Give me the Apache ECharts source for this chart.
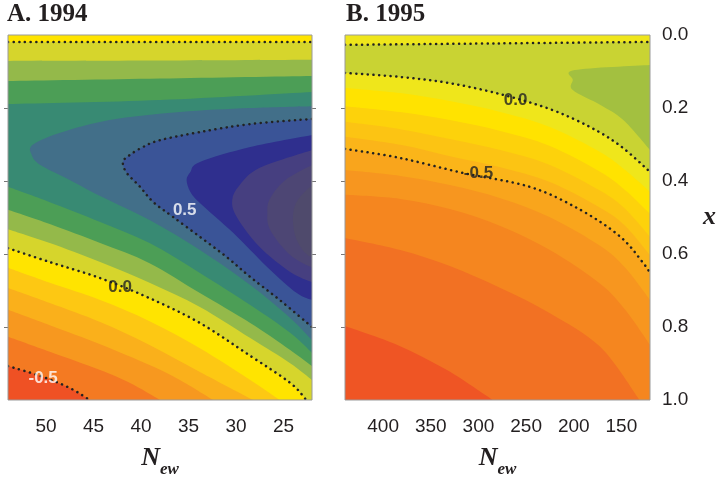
<!DOCTYPE html>
<html>
<head>
<meta charset="utf-8">
<script src="https://cdn.jsdelivr.net/npm/echarts@6/dist/echarts.min.js"></script>
<style>
html,body{margin:0;padding:0;background:#fff}
#main{width:719px;height:477px}
</style>
</head>
<body>
<div id="main"></div>
<script>
// tick values
const ticksA = [25, 30, 35, 40, 45, 50];
const ticksB = [150, 200, 250, 300, 350, 400];
const ticksX = [0, 0.2, 0.4, 0.6, 0.8, 1.0];
const innerX = [0.2, 0.4, 0.6, 0.8];

// A. 1994 -- contour lines, [N_ew, x]
const a_top00 = [[54,0.019],[22,0.019]];
const a_up01 = [[54,0.071],[38,0.070],[22,0.068]];
const a_up02 = [[54,0.126],[38,0.119],[22,0.112]];
const a_up03 = [[54,0.189],[38,0.178],[22,0.156]];
const a_lo00 = [[54,0.584],[49.6,0.622],[44.3,0.666],[39.1,0.721],[33.8,0.789],[28.5,0.879],[24.3,0.953],[22.6,1]];
const a_lo01 = [[54,0.532],[49.6,0.570],[44.3,0.622],[39.1,0.679],[33.8,0.745],[28.5,0.830],[24.3,0.899],[22,0.945]];
const a_lo02 = [[54,0.479],[49.6,0.518],[44.3,0.570],[39.1,0.625],[33.8,0.707],[28.5,0.789],[24.3,0.863],[22,0.907]];
const a_lo03 = [[54,0.416],[49.6,0.458],[44.3,0.512],[39.1,0.570],[33.8,0.652],[28.5,0.740],[24.3,0.816],[22,0.871]];
const a_c04 = [[22,0.195],[28.5,0.2],[35.9,0.211],[43.3,0.233],[48.5,0.268],[51.4,0.301],[51.5,0.329],[50.6,0.356],[47.5,0.397],[44.3,0.441],[39.1,0.507],[33.8,0.589],[28.5,0.685],[24.3,0.775],[22,0.836]];
const a_c05 = [[22,0.230],[28.5,0.244],[33.8,0.266],[38,0.288],[39.8,0.307],[41.2,0.329],[41.9,0.348],[41.5,0.378],[40.1,0.416],[38.7,0.458],[36.6,0.499],[33.8,0.553],[31,0.608],[28.5,0.663],[25.4,0.726],[22,0.8]];
const a_c06 = [[22,0.274],[28.5,0.307],[33.8,0.348],[34.8,0.375],[35.2,0.397],[34.8,0.430],[33.8,0.460],[30.3,0.542],[26.7,0.636],[23.6,0.707],[22,0.726]];
const a_c07 = [[22,0.315],[27.5,0.364],[29.6,0.411],[30.4,0.452],[29.9,0.499],[27.5,0.581],[24.3,0.649],[22,0.677]];
const a_c08 = [[22,0.356],[24.8,0.397],[26.4,0.447],[26.7,0.485],[26.4,0.534],[24.3,0.603],[22,0.638]];
const a_c09 = [[22,0.411],[23.5,0.452],[24,0.493],[23.8,0.548],[23,0.589],[22,0.611]];
const a_m01 = [[54,0.638],[49.6,0.679],[44.3,0.726],[39.1,0.784],[33.8,0.858],[28.5,0.945],[25.4,1]];
const a_m02 = [[54,0.693],[49.6,0.734],[44.3,0.786],[39.1,0.849],[33.8,0.923],[28.2,1]];
const a_m03 = [[54,0.753],[49.6,0.795],[44.3,0.847],[39.1,0.904],[35.9,0.945],[32.4,1]];
const a_m04 = [[54,0.827],[49.6,0.868],[44.3,0.918],[41.2,0.953],[38,1]];
const a_m05 = [[54,0.907],[50.6,0.934],[47.5,0.967],[45.4,1]];
const labelsA = [[35.4,0.479,'0.5'],[42.2,0.69,'0.0'],[50.3,0.94,'-0.5']];

// B. 1995
const b_top00 = [[440,0.027],[280,0.023],[120,0.019]];
const b_lo00 = [[440,0.104],[382,0.115],[330,0.132],[277,0.162],[225,0.203],[183,0.252],[151,0.304],[120,0.375]];
const b_p01 = [[120,0.082],[199,0.096],[201,0.123],[201,0.151],[172,0.192],[148,0.233],[120,0.315]];
const b_m01 = [[440,0.145],[382,0.159],[330,0.181],[277,0.211],[225,0.252],[172,0.321],[146,0.370],[120,0.430]];
const b_m02 = [[440,0.195],[382,0.211],[330,0.233],[277,0.263],[225,0.304],[172,0.375],[146,0.425],[120,0.490]];
const b_m03 = [[440,0.238],[382,0.258],[330,0.285],[277,0.315],[225,0.356],[172,0.427],[146,0.477],[120,0.553]];
const b_m04 = [[440,0.279],[382,0.301],[330,0.332],[277,0.362],[225,0.403],[172,0.474],[146,0.523],[120,0.603]];
const b_m05 = [[440,0.312],[382,0.337],[316,0.378],[246,0.416],[193,0.479],[151,0.553],[127,0.625],[120,0.652]];
const b_m06 = [[440,0.370],[382,0.386],[330,0.411],[277,0.447],[225,0.499],[172,0.578],[146,0.638],[120,0.726]];
const b_m07 = [[440,0.438],[382,0.449],[330,0.477],[277,0.523],[225,0.589],[172,0.682],[146,0.753],[120,0.849]];
const b_m08 = [[440,0.556],[382,0.589],[330,0.633],[277,0.693],[225,0.762],[172,0.855],[131,1]];
const b_m09 = [[440,0.797],[385,0.849],[333,0.918],[285,1]];
const labelsB = [[261,0.18,'0.0'],[300,0.38,'-0.5']];

const TOP_A = [[54,0],[22,0]], BOT_A = [[54,1],[22,1]];
const TOP_B = [[440,0],[120,0]], BOT_B = [[440,1],[120,1]];

// filled bands, lowest first (each one painted over the previous)
const bandsA = [[TOP_A,BOT_A],[TOP_A,a_m05],[TOP_A,a_m04],[TOP_A,a_m03],[TOP_A,a_m02],[TOP_A,a_m01],
  [a_top00,a_lo00],[a_up01,a_lo01],[a_up02,a_lo02],[a_up03,a_lo03],
  [a_c04,null],[a_c05,null],[a_c06,null],[a_c07,null],[a_c08,null],[a_c09,null]];
const coloursA = ['#EF5124','#F47A22','#F7981F','#FAB01B','#FDC813','#FFE400',
  '#D6D52C','#94B94A','#4C9E56','#388A73','#426F89','#3A5497','#2F2F8E','#463F80','#4D4674','#4F4A6C'];
const dottedA = [a_top00, a_lo00, a_c05, a_m05];

const bandsB = [[TOP_B,BOT_B],[TOP_B,b_m09],[TOP_B,b_m08],[TOP_B,b_m07],[TOP_B,b_m06],[TOP_B,b_m05],
  [TOP_B,b_m04],[TOP_B,b_m03],[TOP_B,b_m02],[TOP_B,b_m01],[b_top00,b_lo00],[b_p01,null]];
const coloursB = ['#EF5524','#F27123','#F5861F','#F7961F','#F9A51C','#FBB519',
  '#FCC413','#FDD20B','#FFE300','#EFE61B','#C9D333','#A3C040'];
const dottedB = [b_top00, b_lo00, b_m05];

// curve through pixel points (Catmull-Rom as cubic segments), no leading M
function curve(p) {
  let d = '';
  for (let i = 0; i < p.length - 1; i++) {
    const p0 = p[i - 1] || p[i], p1 = p[i], p2 = p[i + 1], p3 = p[i + 2] || p[i + 1];
    const c1x = p1[0] + (p2[0] - p0[0]) / 6, c1y = p1[1] + (p2[1] - p0[1]) / 6;
    const c2x = p2[0] - (p3[0] - p1[0]) / 6, c2y = p2[1] - (p3[1] - p1[1]) / 6;
    d += ' C' + c1x + ' ' + c1y + ' ' + c2x + ' ' + c2y + ' ' + p2[0] + ' ' + p2[1];
  }
  return d;
}

function bandPath(api, up, lo, nRight) {
  const u = up.map(p => api.coord(p));
  let d = 'M' + u[0][0] + ' ' + u[0][1] + curve(u);
  if (lo) {
    const e = lo[lo.length - 1];
    if (e[1] >= 1 && e[0] !== nRight) {
      const c = api.coord([nRight, 1]);
      d += ' L' + c[0] + ' ' + c[1];
    }
    const l = lo.slice().reverse().map(p => api.coord(p));
    d += ' L' + l[0][0] + ' ' + l[0][1] + curve(l);
  }
  return d + ' Z';
}

const ink = '#231f20';
const serif = 'Liberation Serif';
const sans = 'Liberation Sans';

function fillSeries(bands, colours, nRight, xi, yi, mid) {
  return {
    type: 'custom', xAxisIndex: xi, yAxisIndex: yi, clip: true, silent: true,
    data: bands.map(() => mid),
    renderItem: (params, api) => {
      const b = bands[params.dataIndex];
      return {
        type: 'path',
        shape: { pathData: bandPath(api, b[0], b[1], nRight) },
        style: { fill: colours[params.dataIndex], stroke: null }
      };
    }
  };
}

function dottedSeries(lines, xi, yi, mid) {
  return {
    type: 'custom', xAxisIndex: xi, yAxisIndex: yi, clip: true, silent: true, z: 3,
    data: lines.map(() => mid),
    renderItem: (params, api) => {
      const p = lines[params.dataIndex].map(q => api.coord(q));
      return {
        type: 'path',
        shape: { pathData: 'M' + p[0][0] + ' ' + p[0][1] + curve(p) },
        style: { fill: 'none', stroke: '#222', lineWidth: 2.5, lineDash: [0.1, 5.6], lineCap: 'round' }
      };
    }
  };
}

function labelSeries(labels, cols, xi, yi) {
  return {
    type: 'scatter', xAxisIndex: xi, yAxisIndex: yi, z: 4, symbolSize: 1, silent: true,
    itemStyle: { color: 'transparent' },
    data: labels.map((l, i) => ({
      value: [l[0], l[1]], name: l[2],
      label: { color: cols[i] }
    })),
    label: { show: true, position: 'inside', formatter: p => p.name,
      fontFamily: sans, fontWeight: 'bold', fontSize: 17 }
  };
}

const nameRich = {
  n: { fontFamily: serif, fontStyle: 'italic', fontWeight: 'bold', fontSize: 26, color: ink,
       verticalAlign: 'top', lineHeight: 28 },
  s: { fontFamily: serif, fontStyle: 'italic', fontWeight: 'bold', fontSize: 17, color: ink,
       verticalAlign: 'top', lineHeight: 17, padding: [16, 0, 0, 0] }
};

function xAxis(grid, min, max, ticks) {
  return {
    gridIndex: grid, type: 'value', min: min, max: max, inverse: true,
    axisLine: { show: false }, splitLine: { show: false },
    axisTick: { show: true, length: 4, customValues: ticks, lineStyle: { color: '#777' } },
    axisLabel: { customValues: ticks, fontSize: 19, color: ink, fontFamily: sans, margin: 17 },
    name: '{n|N}{s|ew}', nameLocation: 'middle', nameGap: 45,
    nameTextStyle: { rich: nameRich }
  };
}

function tickAxis(grid, pos) {
  return {
    gridIndex: grid, type: 'value', min: 0, max: 1, inverse: true, position: pos,
    axisLine: { show: false }, splitLine: { show: false }, axisLabel: { show: false },
    axisTick: { show: true, length: 4, customValues: innerX, lineStyle: { color: '#777' } }
  };
}

const chart = echarts.init(document.getElementById('main'), null, { renderer: 'canvas' });
chart.setOption({
  animation: false,
  backgroundColor: '#fff',
  title: [
    { text: 'A. 1994', left: 7, top: 2, padding: 0,
      textStyle: { fontFamily: serif, fontWeight: 'bold', fontSize: 25, color: ink } },
    { text: 'B. 1995', left: 346, top: 2, padding: 0,
      textStyle: { fontFamily: serif, fontWeight: 'bold', fontSize: 25, color: ink } }
  ],
  grid: [
    { left: 8, top: 35, width: 304, height: 365, show: true, z: 5, outerBoundsMode: 'none',
      borderColor: '#9a9a9a', borderWidth: 1, backgroundColor: 'transparent' },
    { left: 345, top: 35, width: 305, height: 365, show: true, z: 5, outerBoundsMode: 'none',
      borderColor: '#9a9a9a', borderWidth: 1, backgroundColor: 'transparent' }
  ],
  xAxis: [xAxis(0, 22, 54, ticksA), xAxis(1, 120, 440, ticksB)],
  yAxis: [
    tickAxis(0, 'left'), tickAxis(0, 'right'), tickAxis(1, 'left'),
    {
      gridIndex: 1, type: 'value', min: 0, max: 1, inverse: true, position: 'right',
      axisLine: { show: false }, splitLine: { show: false }, axisTick: { show: false },
      axisLabel: { customValues: ticksX, formatter: v => v.toFixed(1), fontSize: 19,
        color: ink, fontFamily: sans, margin: 12 },
      name: 'x', nameLocation: 'middle', nameRotate: 0, nameGap: 53,
      nameTextStyle: { fontFamily: serif, fontStyle: 'italic', fontWeight: 'bold', fontSize: 26, color: ink }
    }
  ],
  series: [
    fillSeries(bandsA, coloursA, 22, 0, 0, [38, 0.5]),
    dottedSeries(dottedA, 0, 0, [38, 0.5]),
    labelSeries(labelsA, ['#fff', '#222', '#fff'], 0, 0),
    fillSeries(bandsB, coloursB, 120, 1, 2, [280, 0.5]),
    dottedSeries(dottedB, 1, 2, [280, 0.5]),
    labelSeries(labelsB, ['#222', '#222'], 1, 2)
  ]
});
</script>
</body>
</html>
